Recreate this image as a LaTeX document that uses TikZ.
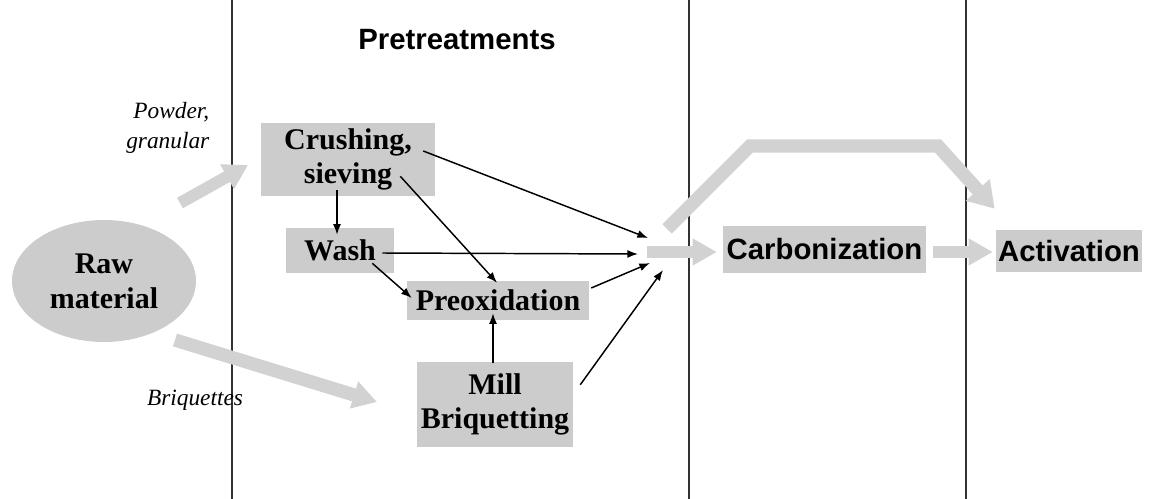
\documentclass[tikz,border=0pt]{standalone}
\usepackage{fontspec}
\setmainfont{Liberation Serif}
\setsansfont{Liberation Sans}
\usetikzlibrary{arrows.meta, calc, shapes.geometric}
\definecolor{boxgray}{RGB}{204,204,204}
\definecolor{flowgray}{RGB}{210,210,210}
\definecolor{linegray}{RGB}{50,50,50}
\tikzset{
  stepbox/.style={fill=boxgray, inner sep=0pt, align=center, font=\fontsize{22.5}{26}\selectfont\bfseries},
  stagebox/.style={fill=boxgray, inner sep=0pt, font=\fontsize{22}{26}\selectfont\sffamily\bfseries},
  thinarrow/.style={-{Latex[length=8pt,width=6pt]}, line width=1.1pt, black},
  flowarrow/.style={-{Triangle[width=20pt,length=18pt]}, line width=10pt, flowgray},
  divider/.style={linegray, line width=1.6pt}
}

\begin{document}
\begin{tikzpicture}[x=0.75pt, y=-0.75pt]
\useasboundingbox (0,0) rectangle (1149,499);

% phase dividers
\draw[divider] (232,0) -- (232,499);
\draw[divider] (689,0) -- (689,499);
\draw[divider] (966,0) -- (966,499);

\node[font=\fontsize{22}{26}\selectfont\sffamily\bfseries] (title) at (457,40) {Pretreatments};

% raw material and routes
\node[ellipse, fill=boxgray, minimum width=138pt, minimum height=91.5pt, inner sep=0pt, align=center,
      font=\fontsize{22.5}{26}\selectfont\bfseries] (raw) at (104,281) {Raw\\material};
\node[font=\fontsize{17.5}{22.5}\selectfont\itshape, align=right, anchor=east] (powder) at (214,128) {Powder,\\granular};
\node[font=\fontsize{17.5}{22}\selectfont\itshape] (briq) at (195,400) {Briquettes};

% pretreatment steps
\node[stepbox, minimum width=130.5pt, minimum height=54.75pt] (crush) at (348,159.5) {Crushing,\\sieving};
\node[stepbox, minimum width=81pt, minimum height=33.75pt] (wash) at (340,250.5) {Wash};
\node[stepbox, minimum width=136.5pt, minimum height=29.25pt] (preox) at (498,300.5) {Preoxidation};
\node[stepbox, minimum width=117pt, minimum height=63.75pt] (mill) at (495,404.5) {Mill\\Briquetting};

% thermal stages
\node[stagebox, minimum width=152.25pt, minimum height=35.25pt] (carb) at (824.5,249.5) {Carbonization};
\node[stagebox, minimum width=109.5pt, minimum height=31.5pt] (act) at (1069,251) {Activation};

% wide grey flows
\coordinate (powtail) at (180,203);
\coordinate (powhead) at (248,165);
\coordinate (brqtail) at (175,340);
\coordinate (brqhead) at (377,402);
\coordinate (join) at (647,252);
\coordinate (bypass) at (667,229);
\draw[flowarrow, line width=9pt] (powtail) -- (powhead);
\draw[flowarrow] (brqtail) -- (brqhead);
\draw[flowarrow, line width=9pt, -{Triangle[width=19pt,length=18pt]}] (join) -- ($(carb.west)+(-6,2.5)$);
\draw[flowarrow, line width=9pt, -{Triangle[width=19pt,length=18pt]}] ($(carb.east)+(7,2.5)$) -- ($(act.west)+(-3,1)$);
\draw[flowarrow, line join=miter, -{Triangle[width=23pt,length=19pt]}]
  (bypass) -- (750,146) -- (938,146) -- ($(act.north west)+(-1,-21)$);

% links between steps
\coordinate (inA) at (648,238);
\coordinate (inB) at (638,254);
\coordinate (inC) at (650,263);
\coordinate (inD) at (663,270);
\draw[thinarrow] ($(crush.south)+(-11,-6)$) -- ($(wash.north)+(-3,7)$);
\draw[thinarrow] ($(crush.east)+(-12,-8.5)$) -- (inA);
\draw[thinarrow] ($(crush.south east)+(-35,-20)$) -- ($(preox.north)+(-1,2)$);
\draw[thinarrow] ($(wash.east)+(-12,2.5)$) -- (inB);
\draw[thinarrow] ($(wash.south east)+(-22,-10)$) -- ($(preox.west)+(5,-2.5)$);
\draw[thinarrow] ($(preox.east)+(2,-12.5)$) -- (inC);
\draw[thinarrow] ($(mill.north)+(-2,1)$) -- ($(preox.south)+(-5,-7)$);
\draw[thinarrow] ($(mill.north east)+(7,23)$) -- (inD);
\end{tikzpicture}
\end{document}
